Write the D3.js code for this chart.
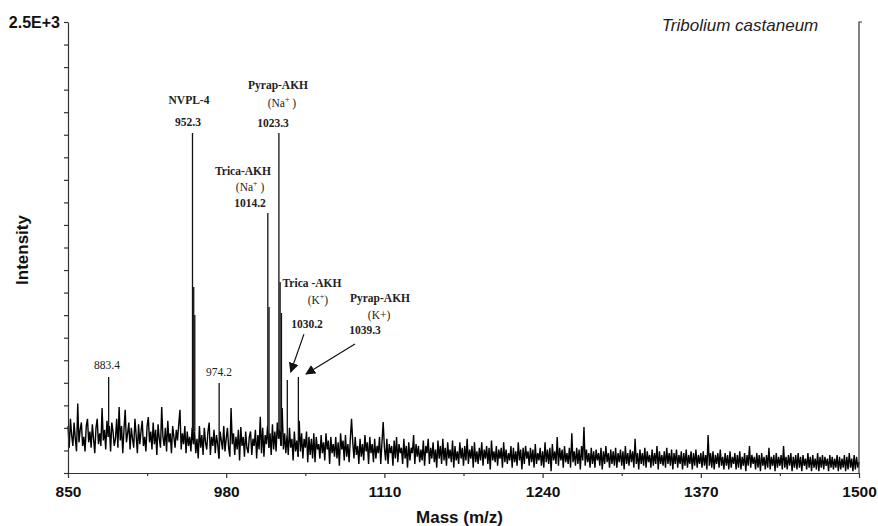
<!DOCTYPE html>
<html>
<head>
<meta charset="utf-8">
<script src="https://cdn.jsdelivr.net/npm/d3@7"></script>
<style>
  body { margin: 0; background: #fff; }
  svg { display: block; }
</style>
</head>
<body>
<svg id="chart" width="878" height="526"></svg>
<script>

// spectrum baseline, one value per Da from 850 to 1500
const massStart = 850;
const noise = [
  260,140,300,210,150,280,190,120,385,170,
  240,280,150,200,120,260,300,170,230,140,
  270,190,110,250,300,160,220,150,360,180,
  240,130,290,200,260,120,280,230,150,190,
  300,140,366,180,260,110,240,350,170,220,
  280,130,250,190,140,300,210,110,270,160,
  230,290,150,200,120,260,310,170,230,130,
  280,160,240,100,270,190,140,366,200,150,
  250,120,290,170,220,110,260,200,140,240,
  180,270,350,130,220,160,260,110,230,150,
  200,120,250,160,230,110,190,80,260,140,
  210,100,250,170,130,230,280,100,200,150,
  240,110,210,160,80,230,180,130,260,120,
  190,250,140,90,360,160,220,100,200,130,
  240,70,255,150,200,90,230,140,110,200,
  230,100,190,150,240,80,210,130,312,110,
  250,90,210,160,260,140,220,100,270,130,
  230,120,280,190,240,150,360,130,220,110,
  210,100,250,140,190,70,230,120,180,90,
  290,120,220,80,190,140,230,60,200,100,
  190,80,220,60,200,130,160,80,210,110,
  170,70,220,130,180,50,200,110,160,90,
  200,80,170,40,220,130,180,70,210,90,
  160,60,190,300,170,80,200,100,150,50,
  190,90,160,70,210,120,170,50,200,110,
  160,60,190,80,150,110,200,50,170,283,
  140,70,190,50,160,110,150,40,180,80,
  200,60,160,110,140,50,190,80,150,30,
  170,70,140,110,210,50,160,90,150,60,
  130,70,180,40,150,110,190,50,140,80,
  170,60,130,30,180,80,150,50,190,70,
  140,40,170,80,130,60,180,30,150,70,
  120,50,170,80,140,40,150,70,190,50,
  130,80,150,30,170,60,120,50,140,70,
  170,40,130,80,150,50,140,20,180,70,
  120,60,150,40,130,80,140,30,170,60,
  130,50,110,70,150,30,140,60,120,40,
  170,70,130,20,140,50,150,80,120,40,
  140,60,130,30,160,50,110,70,140,40,
  120,30,170,60,130,50,140,10,160,70,
  120,50,200,40,140,70,130,30,150,60,
  110,50,140,30,220,60,120,40,140,50,
  130,20,150,70,255,40,130,60,110,30,
  140,50,120,30,130,70,110,40,140,20,
  120,50,150,60,110,30,130,50,120,40,
  140,30,110,60,130,40,120,20,150,50,
  110,40,130,60,120,30,190,50,110,20,
  130,50,110,40,140,30,120,60,100,30,
  130,40,110,50,150,20,120,50,100,40,
  120,30,140,50,110,40,130,20,110,50,
  130,30,100,50,120,20,110,40,130,30,
  100,50,120,20,110,40,130,30,100,50,
  110,30,120,40,100,20,211,40,110,30,
  120,20,100,50,110,30,130,40,90,20,
  110,40,100,20,120,30,90,50,110,20,
  100,30,120,20,90,40,110,10,100,40,
  150,30,100,50,90,20,110,30,100,10,
  110,40,90,20,100,30,140,20,90,40,
  100,10,110,30,90,40,100,20,150,30,
  90,20,100,40,110,10,90,30,100,20,
  110,30,90,10,100,40,80,20,110,30,
  90,10,100,30,80,20,110,10,90,30,
  100,20,90,40,80,10,100,30,90,20,
  80,30,100,10,90,20,80,30,100,10,
  90,20,110,30,80,10,100,20,90,30,
  60
];

// resolved peaks
const peakMass   = [883.4, 952.3, 953.3, 954.2, 974.2, 1014.2, 1015.2, 1023.3, 1024.3, 1025.4, 1030.2, 1039.3];
const peakHeight = [532,   1885,  1031,  876,   499,   1441,   920,    1885,   1059,   887,    515,    532];

const xTicks = [850, 980, 1110, 1240, 1370, 1500];
const xMinorTicks = [915, 1045, 1175, 1305, 1435];
const yMax = 2500;
const yTickStep = 125;

// annotations: text, sup, tail, mass anchor, intensity level
const noteText  = ['NVPL-4', '952.3', 'Pyrap-AKH', '(Na', '1023.3', 'Trica-AKH', '(Na', '1014.2',
                   'Trica -AKH', '(K', '1030.2', 'Pyrap-AKH', '(K+)', '1039.3', '883.4', '974.2'];
const noteSup   = ['', '', '', '+', '', '', '+', '', '', '+', '', '', '', '', '', ''];
const noteTail  = ['', '', '', ' )', '', '', ' )', '', '', ')', '', '', '', '', '', ''];
const noteMass  = [949.4, 948.6, 1022.6, 1025.8, 1018.5, 993.8, 999.6, 999.6,
                   1050.5, 1055.4, 1046.4, 1106.4, 1105.6, 1094.1, 882.0, 974.1];
const noteLevel = [2045, 1923, 2128, 2029, 1918, 1652, 1563, 1474,
                   1031, 937, 804, 948, 854, 770, 576, 538];
const noteBold  = [true, true, true, false, true, true, false, true, true, false, true, true, false, true, false, false];

// arrows: [from mass, from level] -> [to mass, to level]
const arrowFrom = [[1043.9, 770], [1085.8, 715]];
const arrowTo   = [[1033.0, 560], [1045.6, 549]];

const svg = d3.select('#chart');
const margin = { left: 68, right: 19, top: 22, bottom: 53 };
const width = 878 - margin.left - margin.right;
const height = 526 - margin.top - margin.bottom;

const x = d3.scaleLinear().domain([850, 1500]).range([0, width]);
const y = d3.scaleLinear().domain([0, yMax]).range([height, 0]);

const g = svg.append('g').attr('transform', `translate(${margin.left},${margin.top})`);

// spectrum trace
const trace = d3.line()
    .x((d, i) => x(massStart + i))
    .y((d) => y(d));

g.append('path')
    .datum(noise)
    .attr('d', trace)
    .attr('fill', 'none')
    .attr('stroke', '#000')
    .attr('stroke-width', 1.4)
    .attr('stroke-linejoin', 'bevel');

const baseAt = (m) => noise[Math.round(m - massStart)];

g.selectAll('line.peak')
    .data(peakMass)
    .join('line')
    .attr('class', 'peak')
    .attr('x1', (d) => x(d))
    .attr('x2', (d) => x(d))
    .attr('y1', (d) => y(baseAt(d)))
    .attr('y2', (d, i) => y(peakHeight[i]))
    .attr('stroke', '#111')
    .attr('stroke-width', 1.3);

// axes
const tickFont = 'Liberation Sans, Arial, sans-serif';

const xAxis = g.append('g')
    .attr('transform', `translate(0,${height})`)
    .call(d3.axisBottom(x).tickValues(xTicks).tickSize(5).tickSizeOuter(0).tickPadding(8).tickFormat(d3.format('d')));
xAxis.selectAll('text')
    .attr('font-family', tickFont).attr('font-size', 15.5).attr('font-weight', 'bold').attr('fill', '#111');

g.append('g')
    .attr('transform', `translate(0,${height})`)
    .call(d3.axisBottom(x).tickValues(xMinorTicks).tickSize(3).tickSizeOuter(0).tickFormat(''))
    .select('.domain').remove();

const yAxis = g.append('g')
    .call(d3.axisLeft(y)
        .tickValues(d3.range(0, yMax + 1, yTickStep))
        .tickSize(4).tickSizeOuter(0).tickPadding(4)
        .tickFormat((d) => d === yMax ? '2.5E+3' : ''));
yAxis.selectAll('text')
    .attr('font-family', tickFont).attr('font-size', 16).attr('font-weight', 'bold').attr('fill', '#111');

g.selectAll('.domain, .tick line').attr('stroke', '#333').attr('stroke-width', 1.2);

// right frame line
g.append('path')
    .attr('d', `M${width},${height}V0h3`)
    .attr('fill', 'none')
    .attr('stroke', '#333')
    .attr('stroke-width', 1.2);

// titles
svg.append('text')
    .attr('x', margin.left + width / 2 - 4)
    .attr('y', 523)
    .attr('text-anchor', 'middle')
    .attr('font-family', tickFont).attr('font-size', 17).attr('font-weight', 'bold').attr('fill', '#111')
    .text('Mass (m/z)');

svg.append('text')
    .attr('transform', `translate(28,250) rotate(-90)`)
    .attr('text-anchor', 'middle')
    .attr('font-family', tickFont).attr('font-size', 17).attr('font-weight', 'bold').attr('fill', '#111')
    .text('Intensity');

svg.append('text')
    .attr('x', 740)
    .attr('y', 31)
    .attr('text-anchor', 'middle')
    .attr('font-family', tickFont).attr('font-size', 17).attr('font-style', 'italic').attr('fill', '#222')
    .text('Tribolium castaneum');

// peak annotations
const notes = g.selectAll('text.note')
    .data(noteText)
    .join('text')
    .attr('class', 'note')
    .attr('x', (d, i) => x(noteMass[i]))
    .attr('y', (d, i) => y(noteLevel[i]))
    .attr('text-anchor', 'middle')
    .attr('font-family', 'Liberation Serif, Times New Roman, serif')
    .attr('font-size', 11.5)
    .attr('font-weight', (d, i) => noteBold[i] ? 'bold' : 'normal')
    .attr('fill', '#222');

notes.append('tspan').text((d) => d);
notes.append('tspan')
    .attr('font-size', 8)
    .attr('dy', -5)
    .text((d, i) => noteSup[i]);
notes.append('tspan')
    .attr('dy', (d, i) => noteSup[i] ? 5 : 0)
    .text((d, i) => noteTail[i]);

// arrows
svg.append('defs').append('marker')
    .attr('id', 'head')
    .attr('viewBox', '0 0 10 10')
    .attr('refX', 9).attr('refY', 5)
    .attr('markerWidth', 10).attr('markerHeight', 10)
    .attr('markerUnits', 'userSpaceOnUse')
    .attr('orient', 'auto')
    .append('path')
    .attr('d', 'M0,0L10,5L0,10Z')
    .attr('fill', '#111');

g.selectAll('line.arrow')
    .data(arrowFrom)
    .join('line')
    .attr('class', 'arrow')
    .attr('x1', (d) => x(d[0]))
    .attr('y1', (d) => y(d[1]))
    .attr('x2', (d, i) => x(arrowTo[i][0]))
    .attr('y2', (d, i) => y(arrowTo[i][1]))
    .attr('stroke', '#111')
    .attr('stroke-width', 1.2)
    .attr('marker-end', 'url(#head)');

</script>
</body>
</html>
